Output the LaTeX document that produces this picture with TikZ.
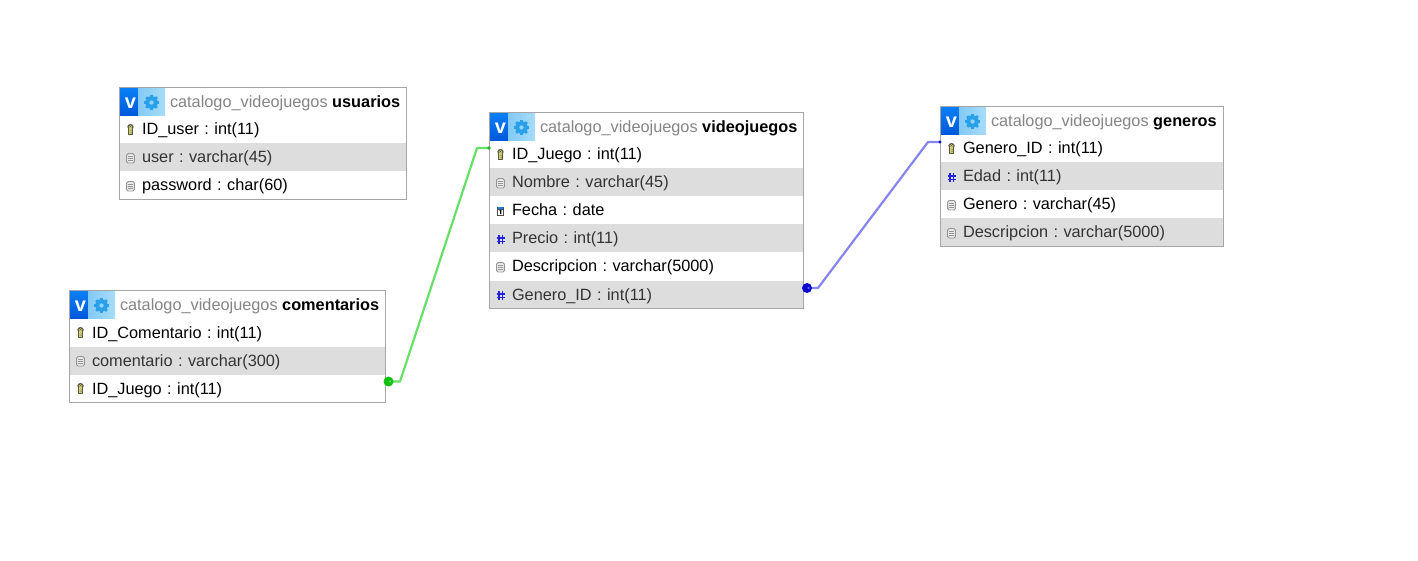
\documentclass[tikz,border=0pt]{standalone}
\usepackage{fontspec}
\setmainfont{Liberation Sans}
\frenchspacing
\definecolor{rowgrey}{HTML}{DDDDDD}
\definecolor{frameg}{HTML}{A6A6A6}
\definecolor{titleg}{HTML}{858585}
\definecolor{linkgreen}{HTML}{66E066}
\definecolor{dotgreen}{HTML}{0FC00F}
\definecolor{dotgreenl}{HTML}{70E070}
\definecolor{linkblue}{HTML}{8585EE}
\definecolor{dotblue}{HTML}{0A0ACC}
\definecolor{dotbluel}{HTML}{7070E8}
\definecolor{tileA}{HTML}{0A80F5}
\definecolor{tileB}{HTML}{0058DC}
\definecolor{tileC}{HTML}{A8DCFA}
\definecolor{gearc}{HTML}{2A9FEA}
\definecolor{hashc}{HTML}{2222DD}
\definecolor{keyd}{HTML}{5A5A48}
\definecolor{keyl}{HTML}{D0CC70}
\usetikzlibrary{calc}
\newcommand{\rowstrut}{\rule[-4pt]{0pt}{19pt}}
\tikzset{
  x=1pt,y=-1pt,
  every node/.style={inner sep=0pt,outer sep=0pt,font=\fontsize{16.3}{18}\selectfont},
  framebox/.style={draw=frameg,line width=1pt,anchor=north west},
  rowbox/.style={anchor=north west,minimum height=28pt,align=left},
  linkg/.style={draw=linkgreen,line width=2.2pt,line join=round},
  linkb/.style={draw=linkblue,line width=2.2pt,line join=round},
  pics/keyic/.style={code={
    \fill[fill=keyd] (0,-3.2) ellipse[x radius=3.2,y radius=2.8];
    \fill[fill=keyd] (-2.4,-2) rectangle (2.4,5);
    \fill[fill=keyl] (0,-3.2) ellipse[x radius=1.9,y radius=1.6];
    \fill[fill=keyl] (-1.2,-2) rectangle (1.2,4.3);
    \fill[fill=keyd] (-.5,-3.8) rectangle (.5,-2.8);
    \fill[fill=keyd] (0,.5) rectangle (1.2,1.2) (0,2.4) rectangle (1.2,3.1);
  }},
  pics/textic/.style={code={
    \draw[draw=black!42,fill=black!7,line width=.9pt,rounded corners=1.5] (-3.9,-4.4) rectangle (3.9,5);
    \draw[draw=black!42,line width=.9pt] (-2.1,-1.6) -- (2.1,-1.6) (-2.1,.6) -- (2.1,.6) (-2.1,2.8) -- (2.1,2.8);
  }},
  pics/dateic/.style={code={
    \fill[fill=black!70] (-3.7,-4.4) rectangle (3.7,4.8);
    \fill[fill=white] (-2.7,-1.4) rectangle (2.7,3.8);
    \fill[fill=tileA] (-2.7,-3.5) rectangle (2.7,-1.7);
    \draw[draw=black,line width=1.1pt] (-.8,-.4) -- (.2,-.6) -- (.2,3.2);
  }},
  pics/hashic/.style={code={
    \draw[draw=hashc,line width=1.5pt] (-1.7,-4) -- (-1.7,5.2) (1.9,-4) -- (1.9,5.2)
      (-4,-1.2) -- (4,-1.2) (-4,2.4) -- (4,2.4);
  }},
}
\newcommand{\dbtable}[6]{%
  % #1 name, #2 x, #3 y, #4 width, #5 title, #6 rows
  \fill[top color=tileA,bottom color=tileB] (#2,#3) rectangle (#2+18.5,#3+28);
  \fill[left color=tileC!70!gearc,right color=tileC] (#2+18.5,#3) rectangle (#2+45.5,#3+28);
  \node[font=\fontsize{20}{20}\selectfont\bfseries,text=white] (#1-v) at (#2+11,#3+15.5) {v};
  \fill[fill=gearc,even odd rule] (#2+32,#3+15) circle[radius=6.2] circle[radius=2.3];
  \foreach \ga in {0,45,...,315}{
    \fill[fill=gearc,rotate around={\ga:(#2+32,#3+15)}] (#2+30.7,#3+7.4) rectangle (#2+33.3,#3+10);
  }
  \node[anchor=west,text=titleg] (#1-title) at (#2+50.5,#3+16)
    {\strut catalogo\_videojuegos \textcolor{black}{\textbf{#5}}};
  \foreach \ic/\txt [count=\i] in {#6}{
    \ifodd\i
      \node[rowbox,text width=#4pt] (#1-r\i) at (#2,#3+28*\i)
        {\hspace*{22.5pt}\rowstrut\txt};
    \else
      \node[rowbox,text width=#4pt,fill=rowgrey,text=black!80] (#1-r\i) at (#2,#3+28*\i)
        {\hspace*{22.5pt}\rowstrut\txt};
    \fi
    \pic at (#2+11,#3+14.5+28*\i) {\ic ic};
  }
}
\begin{document}
\begin{tikzpicture}
\useasboundingbox (0,0) rectangle (1418,561);
\fill[white] (0,0) rectangle (1418,561);

\dbtable{usuarios}{119.5}{87.5}{287}{usuarios}{key/{ID\_user : int(11)},text/{user : varchar(45)},text/{password : char(60)}}
\node[framebox,minimum width=287pt,minimum height=112pt] (usuarios) at (119.5,87.5) {};

\dbtable{comentarios}{69.5}{290.5}{316}{comentarios}{key/{ID\_Comentario : int(11)},text/{comentario : varchar(300)},key/{ID\_Juego : int(11)}}
\node[framebox,minimum width=316pt,minimum height=112pt] (comentarios) at (69.5,290.5) {};

\dbtable{videojuegos}{489.5}{112.5}{314}{videojuegos}{key/{ID\_Juego : int(11)},text/{Nombre : varchar(45)},date/{Fecha : date},hash/{Precio : int(11)},text/{Descripcion : varchar(5000)},hash/{Genero\_ID : int(11)}}
\node[framebox,minimum width=314pt,minimum height=196pt] (videojuegos) at (489.5,112.5) {};

\dbtable{generos}{940.5}{106.5}{283}{generos}{key/{Genero\_ID : int(11)},hash/{Edad : int(11)},text/{Genero : varchar(45)},text/{Descripcion : varchar(5000)}}
\node[framebox,minimum width=283pt,minimum height=140pt] (generos) at (940.5,106.5) {};

% connectors
\coordinate (gs) at ([yshift=7pt]comentarios-r3.east);
\coordinate (ge) at ([yshift=6.5pt]videojuegos-r1.west);
\coordinate (bs) at ([yshift=6.5pt]videojuegos-r6.east);
\coordinate (be) at ([yshift=6.5pt]generos-r1.west);
\draw[linkg] (gs) -- ++(14.5,0) -- ($(ge)+(-12.5,0)$) -- (ge);
\draw[linkb] (bs) -- ++(14.5,0) -- ($(be)+(-12.5,0)$) -- (be);
\fill[fill=dotgreen] ($(gs)+(3,0)$) circle[radius=5];
\fill[fill=dotgreenl] ($(gs)+(4.6,0)$) circle[radius=1.1];
\fill[fill=dotgreen] ($(ge)+(-.5,0)$) circle[radius=1.8];
\fill[fill=dotblue] ($(bs)+(3.5,0)$) circle[radius=5];
\fill[fill=dotbluel] ($(bs)+(5,0)$) circle[radius=1.1];
\fill[fill=dotblue] ($(be)+(-.5,0)$) circle[radius=1.6];
\end{tikzpicture}
\end{document}
